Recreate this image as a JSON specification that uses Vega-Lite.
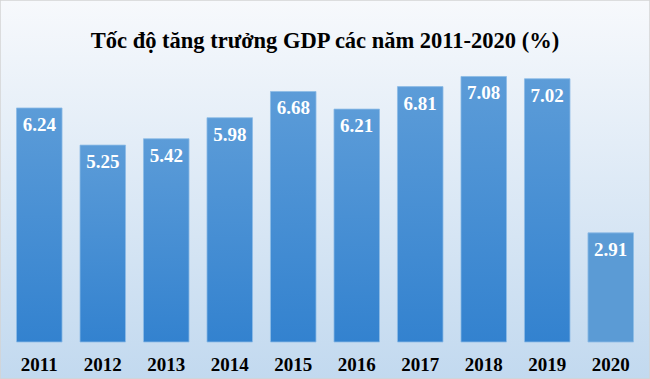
{
  "$schema": "https://vega.github.io/schema/vega-lite/v6.json",
  "width": 650,
  "height": 379,
  "autosize": {"type": "none"},
  "padding": 0,
  "background": "#dfeaf5",
  "config": {
    "view": {
      "stroke": "#d4d4d4",
      "strokeWidth": 1.5,
      "fill": {"gradient": "linear", "x1": 0, "y1": 0, "x2": 0, "y2": 1,
        "stops": [{"offset": 0, "color": "#f7f9fc"}, {"offset": 1, "color": "#c2d9ef"}]}
    }
  },
  "title": {
    "text": "Tốc độ tăng trưởng GDP các năm 2011-2020 (%)",
    "font": "Liberation Serif",
    "fontSize": 22.5,
    "fontWeight": "bold",
    "color": "#000000",
    "anchor": "middle",
    "baseline": "alphabetic",
    "offset": -70
  },
  "data": {"values": [
    {"year": "2011", "gdp": 6.24, "grp": "a"},
    {"year": "2012", "gdp": 5.25, "grp": "a"},
    {"year": "2013", "gdp": 5.42, "grp": "a"},
    {"year": "2014", "gdp": 5.98, "grp": "a"},
    {"year": "2015", "gdp": 6.68, "grp": "a"},
    {"year": "2016", "gdp": 6.21, "grp": "a"},
    {"year": "2017", "gdp": 6.81, "grp": "a"},
    {"year": "2018", "gdp": 7.08, "grp": "a"},
    {"year": "2019", "gdp": 7.02, "grp": "a"},
    {"year": "2020", "gdp": 2.91, "grp": "b"}
  ]},
  "encoding": {
    "x": {
      "field": "year", "type": "ordinal",
      "scale": {"paddingInner": 0.283, "paddingOuter": 0.26},
      "axis": {
        "title": null, "domain": false, "ticks": false, "labelAngle": 0,
        "labelFont": "Liberation Serif", "labelFontSize": 19, "labelFontWeight": "bold",
        "labelColor": "#000000", "labelBaseline": "alphabetic", "labelPadding": -9
      }
    },
    "y": {
      "field": "gdp", "type": "quantitative",
      "scale": {"domain": [-0.9867, 9.12], "nice": false, "zero": false},
      "axis": null
    }
  },
  "layer": [
    {
      "transform": [{"filter": "datum.grp == 'a'"}],
      "mark": {"type": "bar", "y2": {"expr": "scale('y', 0)"},
        "color": {"gradient": "linear", "x1": 0, "y1": 0, "x2": 0, "y2": 1,
          "stops": [{"offset": 0, "color": "#5c9cd8"}, {"offset": 1, "color": "#3382cf"}]},
        "stroke": "#8dbbe6", "strokeWidth": 0.8}
    },
    {
      "transform": [{"filter": "datum.grp == 'b'"}],
      "mark": {"type": "bar", "y2": {"expr": "scale('y', 0)"}, "color": "#5b9bd5", "stroke": "#8dbbe6", "strokeWidth": 0.8}
    },
    {
      "mark": {"type": "text", "baseline": "top", "dy": 8, "color": "white",
        "font": "Liberation Serif", "fontSize": 19, "fontWeight": "bold"},
      "encoding": {"text": {"field": "gdp", "type": "quantitative", "format": ".2f"}}
    }
  ]
}
